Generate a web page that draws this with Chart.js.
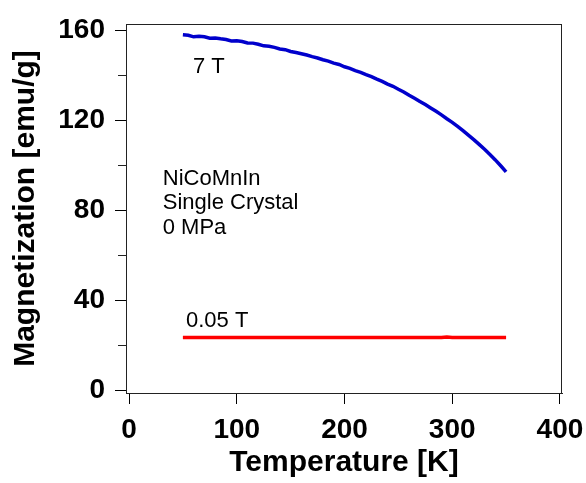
<!DOCTYPE html>
<html>
<head>
<meta charset="utf-8">
<script src="https://cdn.jsdelivr.net/npm/chart.js@4.4.0/dist/chart.umd.min.js"></script>
<style>
  html, body { margin: 0; padding: 0; background: #fff; }
  #wrap { width: 586px; height: 483px; }
</style>
</head>
<body>
<div id="wrap"><canvas id="myChartMT"></canvas></div>
<script>
// 7 T curve
const temps7T = [50, 55, 60, 65, 70, 75, 80, 85, 90, 95, 100, 105, 110, 115, 120, 125, 130, 135, 140, 145,
                 150, 155, 160, 165, 170, 175, 180, 185, 190, 195, 200, 205, 210, 215, 220, 225, 230, 235,
                 240, 245, 250, 255, 260, 265, 270, 275, 280, 285, 290, 295, 300, 305, 310, 315, 320, 325,
                 330, 335, 340, 345, 350];
const mag7T = [157.9, 157.7, 157.0, 157.2, 157.0, 156.4, 156.5, 156.1, 155.8, 155.2, 155.3, 154.9, 154.3, 154.2,
               153.7, 153.0, 152.8, 152.3, 151.6, 151.3, 150.5, 150.0, 149.5, 148.9, 148.2, 147.6, 146.8,
               146.2, 145.3, 144.7, 143.7, 143.0, 142.0, 141.2, 140.2, 139.3, 138.2, 137.2, 136.0, 135.0,
               133.7, 132.5, 131.0, 129.7, 128.3, 126.9, 125.4, 123.9, 122.3, 120.6, 119.0, 117.2, 115.3,
               113.3, 111.3, 109.2, 107.0, 104.7, 102.3, 99.7, 97.0];

// 0.05 T curve
const temps005T = [50, 100, 150, 200, 250, 290, 295, 300, 350];
const mag005T = [23.4, 23.4, 23.4, 23.4, 23.4, 23.4, 23.6, 23.4, 23.4];

const xTicks = [0, 100, 200, 300, 400];
const yTicks = [0, 40, 80, 120, 160];
const yMinorTicks = [20, 60, 100, 140];

const toPoints = (xs, ys) => xs.map((t, i) => ({ x: t, y: ys[i] }));

// text labels inside the plot, placed in data units
const notes = [
  { text: '7 T', t: 59.4, m: 140.9 },
  { text: '0.05 T', t: 52.9, m: 28.1 },
  { text: 'NiCoMnIn', t: 31.3, m: 91.1 },
  { text: 'Single Crystal', t: 31.3, m: 80.3 },
  { text: '0 MPa', t: 31.3, m: 69.2 }
];

const framePlugin = {
  id: 'frame',
  afterDraw(chart) {
    const { ctx, chartArea: a, scales: { y } } = chart;
    ctx.save();
    ctx.strokeStyle = '#222';
    ctx.lineWidth = 1;
    ctx.beginPath();
    ctx.moveTo(a.left, a.top + 0.5);
    ctx.lineTo(a.right, a.top + 0.5);
    ctx.moveTo(a.right - 0.5, a.top);
    ctx.lineTo(a.right - 0.5, a.bottom);
    yMinorTicks.forEach(v => {
      const py = Math.round(y.getPixelForValue(v)) + 0.5;
      ctx.moveTo(a.left - 8, py);
      ctx.lineTo(a.left, py);
    });
    ctx.stroke();
    ctx.restore();
  },
  afterDatasetsDraw(chart) {
    const { ctx, scales: { x, y } } = chart;
    ctx.save();
    ctx.fillStyle = '#000';
    ctx.font = '22px "Liberation Sans", Arial, sans-serif';
    ctx.textAlign = 'left';
    ctx.textBaseline = 'alphabetic';
    notes.forEach(n => ctx.fillText(n.text, x.getPixelForValue(n.t), y.getPixelForValue(n.m)));
    ctx.restore();
  }
};

const tickFont = { family: '"Liberation Sans", Arial, sans-serif', size: 28, weight: 'bold' };
const titleFont = { family: '"Liberation Sans", Arial, sans-serif', size: 30, weight: 'bold' };

new Chart(document.getElementById('myChartMT').getContext('2d'), {
  type: 'scatter',
  data: {
    datasets: [
      {
        label: '7 T',
        data: toPoints(temps7T, mag7T),
        showLine: true,
        borderColor: '#0000cc',
        borderWidth: 3.5,
        pointRadius: 0,
        tension: 0
      },
      {
        label: '0.05 T',
        data: toPoints(temps005T, mag005T),
        showLine: true,
        borderColor: '#ff0000',
        borderWidth: 3.5,
        pointRadius: 0,
        tension: 0
      }
    ]
  },
  options: {
    responsive: true,
    maintainAspectRatio: false,
    animation: false,
    layout: { padding: { top: 24, right: 24, left: 0, bottom: 0 } },
    plugins: {
      legend: { display: false },
      tooltip: { enabled: false }
    },
    scales: {
      x: {
        type: 'linear',
        min: -2.8,
        max: 401.9,
        afterBuildTicks: s => { s.ticks = xTicks.map(v => ({ value: v })); },
        afterFit: s => { s.height = 90; s.paddingLeft = 0; s.paddingRight = 0; },
        grid: { drawOnChartArea: false, tickLength: 11, color: '#000' },
        border: { display: true, color: '#222', width: 1 },
        ticks: { font: tickFont, color: '#000', padding: 9, maxRotation: 0 },
        title: {
          display: true,
          text: 'Temperature [K]',
          color: '#000',
          font: titleFont,
          padding: { top: 0, bottom: 2 }
        }
      },
      y: {
        type: 'linear',
        min: -1.3,
        max: 162.7,
        afterBuildTicks: s => { s.ticks = yTicks.map(v => ({ value: v })); },
        afterFit: s => { s.width = 126; s.paddingTop = 0; s.paddingBottom = 0; },
        grid: { drawOnChartArea: false, tickLength: 11, color: '#000' },
        border: { display: true, color: '#222', width: 1 },
        ticks: { font: tickFont, color: '#000', padding: 10 },
        title: {
          display: true,
          text: 'Magnetization [emu/g]',
          color: '#000',
          font: titleFont,
          padding: { top: 8, bottom: 0 }
        }
      }
    }
  },
  plugins: [framePlugin]
});
</script>
</body>
</html>
